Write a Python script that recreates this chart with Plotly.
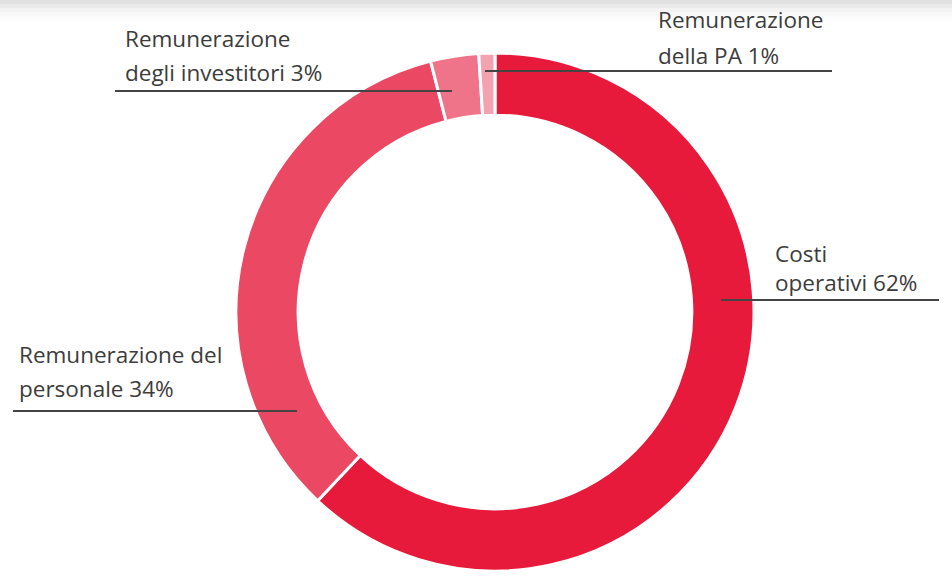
import plotly.graph_objects as go

# Data
categories = ["Costi operativi", "Remunerazione del personale",
              "Remunerazione degli investitori", "Remunerazione della PA"]
values = [62, 34, 3, 1]
label_lines = [
    ["Costi", "operativi 62%"],
    ["Remunerazione del", "personale 34%"],
    ["Remunerazione", "degli investitori 3%"],
    ["Remunerazione", "della PA 1%"],
]
colors = ["#E71A3B", "#EA4863", "#EF7489", "#F3A2B0"]

W, H = 952, 580


def px(x):
    return x / W


def py(y):
    return 1 - y / H


cx, cy, r = 495, 312, 259

fig = go.Figure(go.Pie(
    labels=categories,
    values=values,
    hole=0.76,
    sort=False,
    direction="clockwise",
    rotation=0,
    textinfo="none",
    hoverinfo="label+percent",
    marker=dict(colors=colors, line=dict(color="white", width=3)),
    domain=dict(x=[px(cx - r), px(cx + r)], y=[py(cy + r), py(cy - r)]),
    showlegend=False,
))

# Label layout: text left edge, centre of each text line, leader line (y, x0, x1)
label_layout = [
    dict(x=773, centers=[253, 282], line=(300, 721, 939)),
    dict(x=17, centers=[354, 388], line=(411, 13, 297)),
    dict(x=123, centers=[38, 73], line=(91, 115, 452)),
    dict(x=656, centers=[20, 55], line=(71, 485, 832)),
]

FONT = dict(family="Open Sans", size=22.5, color="#3c3c3c")
annotations = []
shapes = []

# faint grey band along the top edge
for i, op in enumerate([0.04, 0.03, 0.02, 0.015, 0.01]):
    shapes.append(dict(type="rect", xref="paper", yref="paper",
                       x0=0, x1=1, y0=py(4 * (i + 1)), y1=1,
                       fillcolor="#000000", opacity=op, line=dict(width=0),
                       layer="below"))

for lines, lay in zip(label_lines, label_layout):
    c0, c1 = lay["centers"]
    if c1 - c0 < 31:
        # tight leading: keep both lines in one text block
        annotations.append(dict(
            text="<br>".join(lines), x=px(lay["x"]), y=py((c0 + c1) / 2),
            xref="paper", yref="paper", xanchor="left", yanchor="middle",
            align="left", showarrow=False, font=FONT,
        ))
    else:
        for txt, c in zip(lines, (c0, c1)):
            annotations.append(dict(
                text=txt, x=px(lay["x"]), y=py(c),
                xref="paper", yref="paper", xanchor="left", yanchor="middle",
                align="left", showarrow=False, font=FONT,
            ))
    ly, lx0, lx1 = lay["line"]
    shapes.append(dict(type="line", xref="paper", yref="paper",
                       x0=px(lx0), x1=px(lx1), y0=py(ly), y1=py(ly),
                       line=dict(color="#444444", width=2)))

fig.update_layout(
    width=W, height=H,
    margin=dict(l=0, r=0, t=0, b=0),
    paper_bgcolor="white",
    plot_bgcolor="white",
    annotations=annotations,
    shapes=shapes,
)

fig.write_html("out.html")
